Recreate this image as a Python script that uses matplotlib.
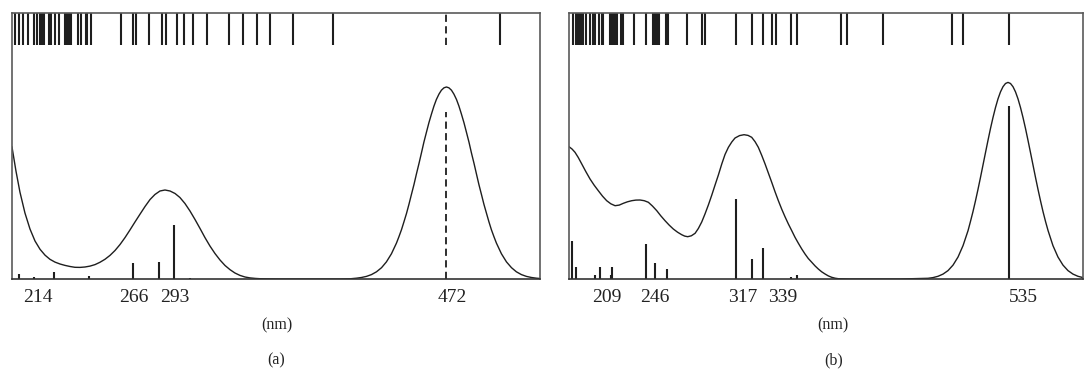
import matplotlib
matplotlib.use("Agg")
import matplotlib.pyplot as plt

# ---------------- Panel (a) data ----------------
curve_a_nm = [186.6, 189.2, 191.8, 195.1, 198.4, 201.7, 205.0, 208.3, 211.5, 214.8, 218.1, 221.4,
              224.7, 227.9, 231.2, 234.5, 237.8, 241.1, 244.3, 247.6, 250.9, 254.2, 257.5, 260.8,
              264.0, 267.3, 270.6, 273.9, 277.2, 280.4, 283.7, 287.0, 290.3, 293.6, 296.8, 300.1,
              303.4, 306.7, 310.0, 313.2, 316.5, 319.8, 323.1, 326.4, 329.7, 332.9, 336.2, 339.5,
              342.8, 346.1, 349.3, 355.9, 362.5, 375.6, 388.7, 401.8, 408.4, 412.6, 415.9, 419.2,
              422.5, 425.8, 429.1, 432.3, 435.6, 438.9, 440.5, 442.2, 443.8, 445.5, 447.1, 448.7,
              450.4, 452.0, 453.7, 455.3, 456.9, 458.6, 460.2, 461.9, 463.5, 465.1, 466.8, 468.4,
              470.1, 471.7, 473.3, 475.0, 476.6, 478.3, 479.9, 481.5, 483.2, 484.8, 486.5, 488.1,
              489.8, 491.4, 493.0, 494.7, 496.3, 498.0, 499.6, 501.2, 502.9, 504.5, 507.8, 511.1,
              514.4, 517.6, 520.9, 524.2, 527.5, 530.8, 533.1]
curve_a_int = [132, 108, 87, 66, 50, 38, 29.7, 23.8, 19.7, 16.9, 15.0, 13.6,
               12.5, 11.7, 11.6, 12.0, 12.9, 14.4, 16.7, 19.7, 23.6, 28.5, 34.5, 41.5,
               49.0, 57.0, 64.8, 72.5, 79.5, 84.5, 88.0, 89.0, 88.0, 85.5, 81.5, 75.5,
               68.0, 59.5, 50.5, 41.5, 33.0, 25.5, 19.0, 13.5, 9.3, 6.0, 3.6, 2.0,
               1.1, 0.6, 0.3, 0.1, 0, 0, 0, 0, 0.2, 0.8, 1.5, 2.6,
               4.4, 7.2, 11.3, 17.1, 25.2, 35.9, 42.2, 49.3, 57.1, 65.6, 74.7, 84.4,
               94.5, 105.0, 115.6, 126.1, 136.8, 146.9, 156.3, 165.1, 172.9, 179.5, 184.9, 188.8,
               191.2, 192.0, 191.2, 188.8, 184.9, 179.5, 172.9, 165.1, 156.3, 146.9, 136.8, 126.1,
               115.6, 105.0, 94.5, 84.4, 74.7, 65.6, 57.1, 49.3, 42.2, 35.9, 25.2, 17.1,
               11.3, 7.2, 4.4, 2.6, 1.5, 0.8, 0.5]
sticks_a_nm = [191.2, 201.0, 214.2, 237.1, 266.0, 283.1, 292.9, 303.4]
sticks_a_int = [5.3, 2.3, 7.3, 3.0, 16.5, 17.5, 54.3, 1.3]
dashed_a_nm = [471.7]
dashed_a_int = [167]
strip_a_nm = [188.6, 191.4, 193.8, 197.1, 201.0, 203.0, 205.0, 206.3, 207.6, 210.9, 211.9, 214.8,
              217.4, 221.4, 222.7, 224.0, 225.3, 229.9, 231.9, 235.2, 235.8, 238.4, 258.1, 266.0,
              268.0, 276.5, 285.0, 287.7, 294.9, 299.5, 305.4, 314.6, 329.0, 338.2, 347.4, 356.0,
              371.0, 397.2, 506.8]
strip_a_dashed_nm = [471.7]
ticks_a_pos = [203.7, 266.7, 293.6, 475.3]
ticks_a_lab = ["214", "266", "293", "472"]
xlim_a = (186.6, 533.1)

# ---------------- Panel (b) data ----------------
curve_b_nm = [183.6, 186.0, 188.4, 191.0, 193.8, 197.0, 200.4, 203.7, 207.0, 210.4, 213.7, 217.0,
              220.4, 223.7, 227.0, 230.3, 233.7, 237.0, 240.3, 243.7, 247.0, 250.3, 253.7, 256.9,
              260.3, 263.6, 266.9, 270.3, 273.6, 276.0, 278.4, 281.3, 284.3, 286.9, 289.6, 292.2,
              294.9, 297.6, 300.2, 302.9, 305.6, 308.2, 310.9, 313.6, 316.2, 319.8, 323.4, 326.6,
              329.5, 332.2, 334.8, 337.5, 340.2, 342.8, 345.5, 348.1, 350.8, 353.5, 356.1, 358.8,
              361.5, 364.1, 366.8, 369.5, 372.1, 374.7, 377.5, 380.1, 382.7, 385.4, 388.1, 390.7,
              393.4, 396.1, 398.7, 408.1, 448.0, 470.3, 474.3, 478.3, 482.3, 486.3, 490.3, 494.3,
              498.3, 502.3, 504.2, 506.2, 508.2, 510.2, 512.2, 514.2, 516.2, 518.2, 520.2, 522.2,
              524.2, 526.2, 528.2, 530.2, 532.2, 534.2, 536.2, 538.2, 540.2, 542.2, 544.2, 546.2,
              548.2, 550.2, 552.2, 554.2, 556.2, 558.2, 560.2, 562.2, 564.2, 566.2, 570.1, 574.1,
              578.1, 582.1, 586.1, 590.1, 594.1]
curve_b_int = [132.3, 130.0, 126.7, 121.5, 115.0, 107.5, 100.0, 93.8, 88.3, 82.8, 78.3, 75.2,
               73.3, 73.9, 75.7, 77.2, 78.3, 78.9, 79.0, 78.3, 76.7, 72.9, 68.3, 63.2,
               58.3, 53.9, 50.0, 46.8, 44.3, 42.9, 42.3, 43.2, 45.7, 50.5, 57.0, 65.0,
               74.0, 83.8, 93.8, 104.0, 115.0, 124.5, 131.7, 137.0, 141.0, 143.4, 144.3, 143.6,
               141.7, 137.3, 131.7, 123.7, 115.0, 106.0, 96.7, 87.4, 78.3, 69.8, 62.3, 55.0,
               48.3, 41.7, 35.7, 30.0, 25.0, 20.5, 16.7, 13.1, 10.0, 7.2, 5.0, 3.1,
               1.7, 0.8, 0.3, 0, 0, 0.7, 1.4, 2.7, 4.9, 8.4, 13.9, 22.0,
               33.4, 48.4, 57.4, 67.2, 78.0, 89.4, 101.4, 113.8, 126.2, 138.5, 150.4, 161.4,
               171.4, 180.1, 187.1, 192.3, 195.5, 196.6, 195.5, 192.3, 187.1, 180.1, 171.4, 161.4,
               150.4, 138.5, 126.2, 113.8, 101.4, 89.4, 78.0, 67.2, 57.4, 48.4, 33.4, 22.0,
               13.9, 8.4, 4.9, 2.7, 1.4]
sticks_b_nm = [186.3, 189.2, 204.4, 208.4, 217.0, 218.2, 244.9, 252.3, 261.7, 317.0, 329.5,
               338.6, 360.9, 365.5, 535.0]
sticks_b_int = [38.3, 11.7, 4.3, 12.3, 4.3, 12.3, 35.0, 16.0, 10.3, 80.0, 20.3,
                31.3, 2.3, 4.3, 173.0]
strip_b_nm = [187.1, 189.0, 190.6, 191.8, 193.0, 194.6, 197.2, 200.4, 202.5, 204.4, 207.8, 209.7,
              210.5, 216.4, 217.7, 219.0, 220.4, 221.7, 225.1, 227.0, 235.5, 245.1, 250.5, 252.1,
              253.7, 255.7, 261.1, 262.9, 277.6, 289.6, 292.2, 317.0, 329.5, 338.6, 345.8, 349.0,
              360.7, 365.5, 400.9, 405.9, 434.2, 489.3, 498.1, 535.0]
ticks_b_pos = [214.0, 252.3, 322.6, 354.5, 546.2]
ticks_b_lab = ["209", "246", "317", "339", "535"]
xlim_b = (183.6, 594.1)

y_top = 266  # intensity scale (arb.)

plt.rcParams["font.family"] = ["Liberation Serif", "DejaVu Serif"]

W, H = 1085, 378
fig = plt.figure(figsize=(W / 100, H / 100), dpi=100)
fig.patch.set_facecolor("white")

ink = "#1e1e1e"
frame = "#5a5a5a"


def panel(rect, xlim, cnm, cint, snm, sint, strip, ticks, labels, dnm=None, dint=None, sdash=None):
    ax = fig.add_axes(rect)
    ax.set_xlim(*xlim)
    ax.set_ylim(0, y_top)
    ax.plot(cnm, cint, color=ink, lw=1.0, solid_joinstyle="round")
    ax.vlines(snm, 0, sint, color=ink, lw=1.5)
    if dnm is not None:
        ax.vlines(dnm, 0, dint, color=ink, lw=1.3, linestyles=(0, (4, 2.4)))
    trans = ax.get_xaxis_transform()
    ax.vlines(strip, 0.88, 1.0, transform=trans, color=ink, lw=1.5)
    if sdash is not None:
        ax.vlines(sdash, 0.88, 1.0, transform=trans, color=ink, lw=1.3, linestyles=(0, (4, 2.4)))
    for s in ax.spines.values():
        s.set_color(frame)
        s.set_linewidth(1.2)
    ax.spines["bottom"].set_color("#333333")
    ax.set_yticks([])
    ax.set_xticks(ticks)
    ax.set_xticklabels(labels, fontsize=14)
    ax.tick_params(axis="x", length=0, pad=7, colors="#222222")
    return ax


ax_a = panel([12 / W, (H - 279) / H, 528 / W, 266 / H], xlim_a, curve_a_nm, curve_a_int,
             sticks_a_nm, sticks_a_int, strip_a_nm, ticks_a_pos, ticks_a_lab,
             dashed_a_nm, dashed_a_int, strip_a_dashed_nm)
ax_b = panel([569 / W, (H - 279) / H, 514 / W, 266 / H], xlim_b, curve_b_nm, curve_b_int,
             sticks_b_nm, sticks_b_int, strip_b_nm, ticks_b_pos, ticks_b_lab)

fig.text(276.5 / W, 1 - 325 / H, "(nm)", ha="center", va="center", fontsize=11.5, color="#222222")
fig.text(833 / W, 1 - 325 / H, "(nm)", ha="center", va="center", fontsize=11.5, color="#222222")
fig.text(276 / W, 1 - 360 / H, "(a)", ha="center", va="center", fontsize=11.5, color="#222222")
fig.text(834 / W, 1 - 360 / H, "(b)", ha="center", va="center", fontsize=11.5, color="#222222")

fig.savefig("out.png", dpi=100, facecolor="white")
